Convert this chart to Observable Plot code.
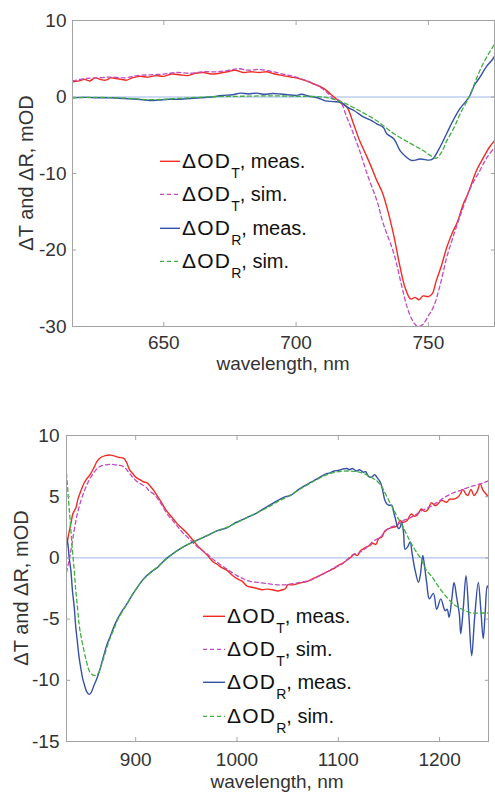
<!DOCTYPE html>
<html><head><meta charset="utf-8">
<script src="https://cdn.jsdelivr.net/npm/d3@7"></script>
<script src="https://cdn.jsdelivr.net/npm/@observablehq/plot@0.6"></script>
<style>
body{margin:0;background:#fff;}
#root{position:relative;width:495px;height:793px;overflow:hidden;background:#fff;font-family:"Liberation Sans",Arial,Helvetica,sans-serif;color:#333;}
.panel{position:absolute;left:0;}
.xtitle{position:absolute;white-space:nowrap;font-size:19px;line-height:14px;transform:translateX(-50%);}
.ytitle{position:absolute;white-space:nowrap;font-size:20px;line-height:20px;transform:translate(-50%,-50%) rotate(-90deg);}
.leg{position:absolute;font-size:20px;line-height:20px;color:#111;white-space:nowrap;}
.leg svg{position:absolute;left:0;top:0;overflow:visible;}
.leg .txt{position:absolute;top:0;}
.sub{font-size:14px;position:relative;top:10px;}
.d{letter-spacing:1.2px;font-size:21px;}
</style>
</head><body><div id="root"></div>
<script>
// ---------- Top panel (600-780 nm) ----------
const topTMeasX = [615.5,618,620,622,624,626,628,630,632,634,636,638,641,644,647,650,653,656,659,662,665,668,671,674,677,680,683,686,689,692,695,698,700,703,706,709,711,713,715,717,719.2,721.5,724,726.5,728.5,730.5,732.5,734.3,736.8,739.3,741.2,743.3,745,746.5,748,750,751.5,753,755,757,759,761,763.2,765,768.2,771,773,775];
const topTMeasY = [2.0,2.1,2.3,2.1,2.5,2.3,2.2,2.5,2.4,2.3,2.2,2.5,2.7,2.6,2.8,2.7,3.0,2.9,2.8,3.1,3.2,3.0,3.1,3.3,3.5,3.2,3.3,3.2,3.3,3.0,2.8,2.6,2.5,2.2,1.8,1.4,1.0,0.4,-0.2,-0.8,-1.3,-3.3,-5.7,-7.6,-9.2,-10.9,-12.4,-14.4,-17.9,-22.2,-24.9,-26.4,-26.2,-26.5,-26.0,-26.1,-25.7,-24.0,-22.0,-19.6,-17.8,-16.3,-14.0,-12.6,-9.6,-7.8,-6.6,-5.7];

const topTSimX = [615.5,620,625,630,635,640,645,650,655,660,665,670,675,678,682,686,690,695,700,705,709,712,714,716.6,719,721,724,727,730.5,733,737,740,742,744,746,748,750,752,754.5,757,760,763.2,766,769.5,772,775];
const topTSimY = [2.1,2.4,2.5,2.6,2.5,2.8,2.9,3.0,3.2,3.1,3.3,3.3,3.5,3.7,3.5,3.6,3.4,3.0,2.6,2.0,1.3,0.5,-0.2,-0.5,-2.5,-4.2,-7.0,-10.2,-13.5,-16.6,-20.5,-24.8,-27.5,-29.2,-30.0,-29.7,-28.6,-27.4,-24.5,-20.9,-17.6,-14.4,-11.8,-9.6,-8.0,-6.6];

const topRMeasX = [615.5,620,625,630,635,640,645,648,652,656,660,664,668,672,676,679,682,685,688,691,694,697,700,702,705,708,711,714,717,719.2,722,725.4,728,730.5,733,734.3,737,739.3,741.5,743.7,747,751.2,754,756.9,759,762,765.4,767.5,769.5,772,774,775];
const topRMeasY = [-0.1,-0.05,-0.1,-0.1,-0.2,-0.3,-0.45,-0.4,-0.3,-0.3,-0.2,-0.1,0.0,0.2,0.3,0.5,0.4,0.5,0.35,0.45,0.4,0.3,0.2,0.35,0.1,-0.1,-0.5,-0.6,-0.7,-1.3,-1.8,-2.6,-3.0,-3.5,-4.0,-4.8,-5.5,-7.0,-7.8,-8.3,-8.1,-8.2,-6.8,-4.8,-3.3,-1.5,0.0,1.6,2.6,4.0,4.8,5.3];

const topRSimX = [615.5,625,635,645,650,660,670,680,690,700,708,712,716,719,724,730.5,737,743.4,748,751,753,755,757,760,762,765.4,767.5,769.5,772,775];
const topRSimY = [-0.1,-0.05,-0.15,-0.35,-0.3,-0.1,0.05,0.1,0.15,0.1,0.05,-0.1,-0.5,-0.9,-1.8,-3.1,-4.8,-6.1,-7.0,-7.7,-8.0,-7.2,-5.7,-3.8,-2.2,0.0,1.8,3.5,5.2,6.9];

// ---------- Bottom panel (830-1250 nm) ----------
const botTMeasX = [831.7,834,836,838,841,843,846,849,852,855,859,862,865.5,870,875,880,884,888,891,894,897,900,904,908,911,914,918,921,925,930,935,941,946,951,956,961,966,971,976,980,985,990,995,1000,1005,1010,1015,1020,1025,1030,1035,1040,1045,1048,1050,1055,1060,1065,1070,1075,1080,1085,1090,1095,1100,1105,1110,1113,1116,1119,1122,1125,1128,1131,1134,1137,1140,1143,1146,1150,1154,1158,1161,1164,1168,1172,1175,1178,1182,1185,1188,1192,1195,1197,1202,1207,1210,1214,1218,1221,1223,1226,1228,1231,1234,1237,1240,1243,1245,1248.3];
const botTMeasY = [0.9,2.0,2.8,3.6,4.1,4.8,5.5,6.1,6.5,6.8,7.4,7.9,8.2,8.35,8.4,8.3,8.2,8.15,7.8,7.2,6.9,6.6,6.4,6.2,6.15,5.9,5.5,5.1,4.6,3.9,3.4,2.8,2.4,2.0,1.5,1.0,0.6,0.2,-0.3,-0.5,-0.8,-1.0,-1.4,-1.7,-1.9,-2.3,-2.4,-2.5,-2.6,-2.55,-2.6,-2.7,-2.6,-2.5,-2.2,-2.2,-2.1,-2.0,-1.9,-1.7,-1.5,-1.3,-1.1,-0.9,-0.6,-0.4,-0.1,0.1,0.3,0.2,0.6,0.75,0.9,1.0,1.2,1.1,1.6,1.7,2.2,2.4,2.5,2.6,3.05,2.9,3.05,3.6,3.4,3.5,4.0,3.8,3.9,4.5,4.3,4.3,4.7,4.55,4.8,4.8,4.95,5.3,5.6,5.2,5.1,5.6,5.1,5.4,6.05,5.5,5.3,5.0];

const botTSimX = [831.7,834,836,838,841,843,846,849,852,855,859,862,865.5,870,875,880,885,889,892,895,898,902,906,910,913,918,922,926,931,936,941,946,951,956,961,966,971,976,981,986,990,995,1000,1005,1010,1015,1020,1030,1040,1046,1055,1062,1069,1076,1083,1090,1096,1102,1108,1115,1120,1125,1130,1135,1141,1148,1153,1158,1164,1170,1175,1181,1190,1197,1205,1213,1220,1228,1236,1242,1248.3];
const botTSimY = [-1.2,-0.3,0.6,1.6,3.05,3.8,4.7,5.4,6.0,6.5,7.0,7.3,7.5,7.6,7.65,7.6,7.55,7.4,7.1,6.8,6.5,6.2,6.0,5.8,5.5,5.2,4.8,4.3,3.6,3.1,2.6,2.1,1.7,1.3,0.9,0.6,0.3,-0.1,-0.4,-0.7,-0.9,-1.2,-1.45,-1.65,-1.85,-1.95,-2.0,-2.1,-2.2,-2.2,-2.1,-2.0,-1.9,-1.7,-1.4,-1.1,-0.8,-0.6,-0.2,0.3,0.4,0.65,1.0,1.4,1.65,2.3,2.55,2.7,3.05,3.25,3.45,3.8,4.15,4.5,4.95,5.3,5.5,5.75,5.95,6.1,6.3];

const botRMeasX = [831.7,833,834.3,836,837.6,839.3,840.9,842.5,844.1,845.8,847.5,849.5,851.5,854,856,858.9,861,864,868.7,872,875,878.6,882,886,891.8,896,901.6,906,911.5,916,921.3,926,931.2,936,941,947,954,962,970,980,990,997,1005,1010,1018,1026,1034,1042.8,1048,1053,1059.3,1067,1075.6,1082,1088.8,1092,1096,1100,1104,1108.5,1111,1114,1118,1121,1124.9,1127,1129.9,1133,1136,1138,1141.4,1143,1144.6,1146,1148,1150,1152.9,1154.5,1156.1,1159.4,1161,1162.7,1164.5,1166,1168.5,1170.9,1173,1175.8,1179.1,1181,1183.4,1185.5,1187.4,1189.9,1193.9,1197.2,1201.2,1205.4,1207.5,1209.4,1212,1214.3,1217,1219.5,1220.9,1223.5,1226.1,1229,1231.7,1234.5,1238.2,1240.7,1243.1,1245,1247.1,1248.3];
const botRMeasY = [1.7,1.2,0.05,-1.0,-2.7,-4.0,-5.7,-6.9,-8.1,-9.0,-9.8,-10.4,-10.9,-11.15,-11.0,-10.4,-10.0,-9.3,-7.9,-7.0,-6.4,-5.6,-5.0,-4.4,-3.7,-3.1,-2.4,-1.9,-1.4,-1.1,-0.8,-0.4,0.0,0.3,0.6,0.9,1.2,1.5,1.8,2.2,2.45,2.8,3.1,3.3,3.6,4.0,4.4,4.8,5.0,5.1,5.5,5.9,6.3,6.6,6.9,6.95,7.1,7.15,7.25,7.3,7.2,7.3,7.1,7.2,7.0,7.05,6.65,6.6,6.8,6.6,6.2,5.8,5.2,4.7,4.4,4.3,4.3,3.8,3.3,2.4,2.5,2.9,2.0,0.7,0.9,1.3,0.3,-1.0,-2.0,-1.4,0.2,-0.9,-2.1,-3.35,-2.9,-4.2,-3.35,-4.3,-4.2,-4.85,-3.4,-2.0,-3.3,-4.6,-6.2,-4.0,-1.45,-4.8,-8.0,-5.0,-2.0,-4.2,-6.6,-4.5,-2.3,-2.5];

const botRSimX = [831.7,833,834.3,836,837.6,839.3,840.9,842.5,844.1,846,849,851.5,854,856.5,859,861.5,864,866,868.7,872,875,878.6,882,886,891.8,896,901.6,906,911.5,916,921.3,926,931.2,936,941,947,954,962,970,980,990,1000,1010,1020,1030,1040,1050,1060,1070,1080,1090,1100,1110,1118,1125,1132,1138,1143,1148,1153,1158,1164,1170,1175,1181,1187,1193,1197,1203,1208,1214,1220,1226,1232,1240,1248.3];
const botRSimY = [6.9,5.5,4.1,2.3,0.6,-1.0,-2.7,-4.0,-5.4,-6.4,-7.6,-8.5,-9.2,-9.5,-9.6,-9.55,-9.3,-8.8,-8.1,-7.2,-6.5,-5.8,-5.1,-4.5,-3.7,-3.1,-2.4,-1.9,-1.45,-1.1,-0.75,-0.4,0.0,0.3,0.6,0.9,1.2,1.5,1.8,2.2,2.5,2.9,3.3,3.7,4.1,4.6,5.0,5.5,6.0,6.45,6.85,7.05,7.1,7.05,6.9,6.6,6.3,5.8,5.0,4.2,3.4,2.5,1.5,0.75,0.0,-1.0,-1.6,-2.1,-2.8,-3.3,-3.8,-4.1,-4.35,-4.5,-4.5,-4.5];

// ---------- Ticks, labels, legend ----------
const topXTicks = [650, 700, 750];
const topYTicks = [-30, -20, -10, 0, 10];
const botXTicks = [900, 1000, 1100, 1200];
const botYTicks = [-15, -10, -5, 0, 5, 10];
const xTitle = "wavelength, nm";
const yTitle = "ΔT and ΔR, mOD";
const legendMain = ["ΔOD", "ΔOD", "ΔOD", "ΔOD"];
const legendSub = ["T", "T", "R", "R"];
const legendSuffix = [", meas.", ", sim.", ", meas.", ", sim."];

const colors = ["#f02b24", "#c24bbf", "#3450a8", "#3fae3f"];
const dashed = [false, true, false, true];
const frameColor = "#a3a3a3";
const zeroColor = "#9bb6e6";

function mkPanel(cfg) {
  const seriesMarks = cfg.series.map((s, i) =>
    Plot.line(s[0].map((x, j) => ({x, y: s[1][j]})), {
      x: "x", y: "y", stroke: colors[i],
      strokeWidth: dashed[i] ? 1.3 : 1.4,
      strokeDasharray: dashed[i] ? "4,3" : null,
      curve: "catmull-rom",
      clip: true
    })
  );
  const tickOpts = {tickFormat: () => "", label: null, stroke: frameColor, tickSize: 4};
  return Plot.plot({
    width: 495, height: cfg.height,
    marginTop: cfg.mt, marginBottom: cfg.mb, marginLeft: cfg.ml, marginRight: cfg.mr,
    x: {domain: cfg.xDomain},
    y: {domain: cfg.yDomain},
    style: {fontFamily: '"Liberation Sans", Arial, Helvetica, sans-serif', fontSize: "19px", color: "#333", background: "transparent"},
    marks: [
      Plot.ruleY([0], {stroke: zeroColor, strokeWidth: 1}),
      ...seriesMarks,
      Plot.frame({stroke: frameColor, strokeWidth: 1}),
      Plot.axisX(cfg.xTicks, {anchor: "bottom", tickSize: 0, tickPadding: cfg.xpad, tickFormat: d => String(d), label: null}),
      Plot.axisY(cfg.yTicks, {anchor: "left", tickSize: 0, tickPadding: cfg.ypad, tickFormat: d => String(d), label: null}),
      Plot.axisX(cfg.xTicks, {anchor: "bottom", dy: -4, ...tickOpts}),
      Plot.axisX(cfg.xTicks, {anchor: "top", dy: 4, ...tickOpts}),
      Plot.axisY(cfg.yTicks, {anchor: "left", dx: 4, ...tickOpts}),
      Plot.axisY(cfg.yTicks, {anchor: "right", dx: -4, ...tickOpts})
    ]
  });
}

const root = document.getElementById("root");

function addPanel(top, cfg) {
  const wrap = document.createElement("div");
  wrap.className = "panel";
  wrap.style.top = top + "px";
  wrap.appendChild(mkPanel(cfg));
  root.appendChild(wrap);
}

addPanel(0, {
  height: 400, mt: 20, mb: 74, ml: 72, mr: 1, ypad: 6, xpad: 8.5,
  xDomain: [615.5, 775], yDomain: [-30, 10],
  xTicks: topXTicks, yTicks: topYTicks,
  series: [[topTMeasX, topTMeasY], [topTSimX, topTSimY], [topRMeasX, topRMeasY], [topRSimX, topRSimY]]
});
addPanel(400, {
  height: 393, mt: 35, mb: 52, ml: 66, mr: 7, ypad: 7, xpad: 11,
  xDomain: [831.7, 1248.3], yDomain: [-15, 10],
  xTicks: botXTicks, yTicks: botYTicks,
  series: [[botTMeasX, botTMeasY], [botTSimX, botTSimY], [botRMeasX, botRMeasY], [botRSimX, botRSimY]]
});

function addText(cls, text, left, top) {
  const d = document.createElement("div");
  d.className = cls;
  d.textContent = text;
  d.style.left = left + "px";
  d.style.top = top + "px";
  root.appendChild(d);
}
addText("xtitle", xTitle, 283, 356.5);
addText("xtitle", xTitle, 277, 774.5);
addText("ytitle", yTitle, 26, 173);
addText("ytitle", yTitle, 20.6, 588);

function addLegend(lineX, textX, baselines) {
  legendMain.forEach((m, i) => {
    const row = document.createElement("div");
    row.className = "leg";
    row.style.left = lineX + "px";
    row.style.top = (baselines[i] - 17) + "px";
    const svgNS = "http://www.w3.org/2000/svg";
    const svg = document.createElementNS(svgNS, "svg");
    svg.setAttribute("width", textX - lineX);
    svg.setAttribute("height", 20);
    const ln = document.createElementNS(svgNS, "line");
    ln.setAttribute("x1", 0); ln.setAttribute("x2", textX - lineX - 2);
    ln.setAttribute("y1", 10.3); ln.setAttribute("y2", 10.3);
    ln.setAttribute("stroke", colors[i]);
    ln.setAttribute("stroke-width", dashed[i] ? 1.3 : 1.4);
    if (dashed[i]) ln.setAttribute("stroke-dasharray", "4,3");
    svg.appendChild(ln);
    row.appendChild(svg);
    const t = document.createElement("span");
    t.className = "txt";
    t.style.left = (textX - lineX) + "px";
    const a = document.createElement("span"); a.className = "d"; a.textContent = m;
    const b = document.createElement("span"); b.className = "sub"; b.textContent = legendSub[i];
    const c = document.createElement("span"); c.textContent = legendSuffix[i];
    t.appendChild(a); t.appendChild(b); t.appendChild(c);
    row.appendChild(t);
    root.appendChild(row);
  });
}
addLegend(160, 182, [168, 201.3, 234.6, 267.5]);
addLegend(203, 227, [622.7, 656, 689.4, 722.7]);
</script>
</body></html>
